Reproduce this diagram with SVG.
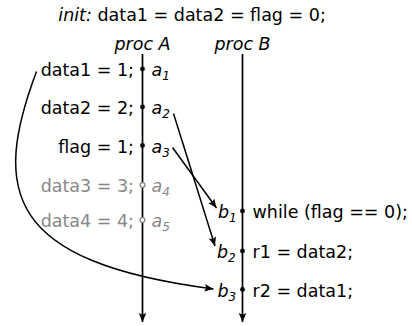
<svg xmlns="http://www.w3.org/2000/svg" width="412" height="326" viewBox="0 0 412 326">
<style>
text{font-family:"DejaVu Sans","Noto Sans",sans-serif;font-size:17.5px;fill:#000}
.it{font-style:italic}
.g{fill:#888}
.end{text-anchor:end}
.mid{text-anchor:middle}
.sub{font-size:12px}
.tl{stroke:#000;stroke-width:1.7;fill:none}
.ar{stroke:#000;stroke-width:1.5;fill:none}
.dot{fill:#000}
.hdot{fill:#fff;stroke:#888;stroke-width:1.3}
</style>
<defs>
<marker id="ah" markerUnits="userSpaceOnUse" markerWidth="12" markerHeight="10" refX="9" refY="4" orient="auto" viewBox="0 0 12 10">
<path d="M9,4 L0,0.2 L1.8,4 L0,7.8 Z" fill="#000"/>
</marker>
</defs>
<text x="58.3" y="20.7"><tspan class="it">init:</tspan> data1 = data2 = flag = 0;</text>
<g id="procA">
<text class="it mid" x="142.5" y="50">proc A</text>
<line class="tl" x1="142.5" y1="54" x2="142.5" y2="322" marker-end="url(#ah)"/>
</g>
<g id="procB">
<text class="it mid" x="242.5" y="50">proc B</text>
<line class="tl" x1="242.5" y1="54" x2="242.5" y2="322" marker-end="url(#ah)"/>
</g>
<g id="a1">
<circle class="dot" cx="142.5" cy="69" r="2.4"/>
<text class="end" x="134" y="76">data1 = 1;</text>
<text class="it" x="151.5" y="76">a<tspan class="sub" dy="4">1</tspan></text>
</g>
<g id="a2">
<circle class="dot" cx="142.5" cy="107" r="2.4"/>
<text class="end" x="134" y="114">data2 = 2;</text>
<text class="it" x="151.5" y="114">a<tspan class="sub" dy="4">2</tspan></text>
</g>
<g id="a3">
<circle class="dot" cx="142.5" cy="145.5" r="2.4"/>
<text class="end" x="134" y="152.5">flag = 1;</text>
<text class="it" x="151.5" y="152.5">a<tspan class="sub" dy="4">3</tspan></text>
</g>
<g id="a4">
<circle class="hdot" cx="142.5" cy="185" r="2.4"/>
<text class="end g" x="134" y="192">data3 = 3;</text>
<text class="it g" x="151.5" y="192">a<tspan class="sub" dy="4">4</tspan></text>
</g>
<g id="a5">
<circle class="hdot" cx="142.5" cy="220" r="2.4"/>
<text class="end g" x="134" y="227">data4 = 4;</text>
<text class="it g" x="151.5" y="227">a<tspan class="sub" dy="4">5</tspan></text>
</g>
<g id="b1">
<circle class="dot" cx="242.5" cy="211" r="2.4"/>
<text class="it" x="218" y="218">b<tspan class="sub" dy="4">1</tspan></text>
<text x="252.5" y="218">while (flag == 0);</text>
</g>
<g id="b2">
<circle class="dot" cx="242.5" cy="251" r="2.4"/>
<text class="it" x="217" y="258">b<tspan class="sub" dy="4">2</tspan></text>
<text x="252.5" y="258">r1 = data2;</text>
</g>
<g id="b3">
<circle class="dot" cx="242.5" cy="289.5" r="2.4"/>
<text class="it" x="217.5" y="296.5">b<tspan class="sub" dy="4">3</tspan></text>
<text x="252.5" y="296.5">r2 = data1;</text>
</g>
<g id="connectors">
<path class="ar" d="M173.5,113.5 L215,246" marker-end="url(#ah)"/>
<path class="ar" d="M172.5,147.5 L216.5,208" marker-end="url(#ah)"/>
<path class="ar" d="M36.5,71.5 C-8,190 5,262 213.5,289" marker-end="url(#ah)"/>
</g>
</svg>
